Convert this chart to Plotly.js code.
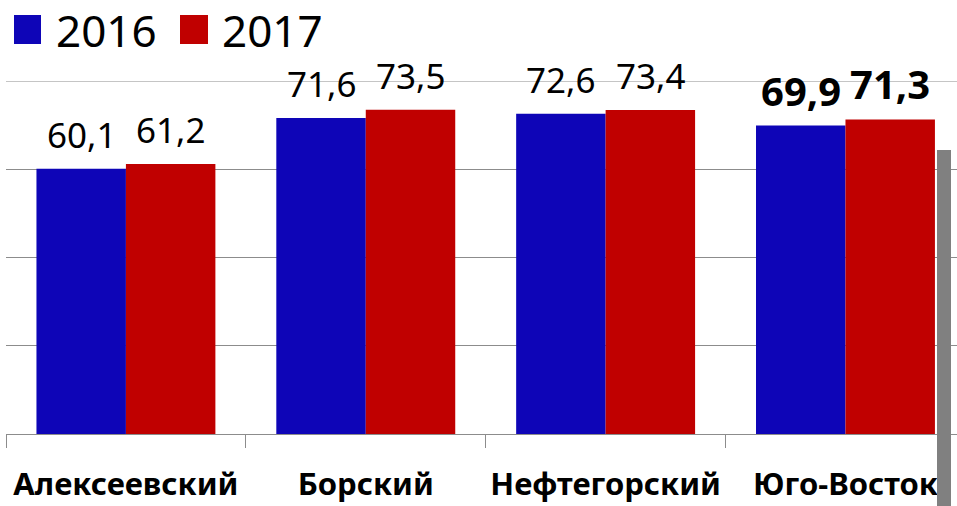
<!DOCTYPE html>
<html>
<head>
<meta charset="utf-8">
<script src="https://cdn.plot.ly/plotly-3.0.1.min.js"></script>
<style>html,body{margin:0;padding:0;background:#fff;}#chart{width:957px;height:506px;}</style>
</head>
<body>
<div id="chart"></div>
<script>
const categories = ["Алексеевский", "Борский", "Нефтегорский", "Юго-Восток"];
const values2016 = [60.1, 71.6, 72.6, 69.9];
const values2017 = [61.2, 73.5, 73.4, 71.3];
const seriesNames = ["2016", "2017"];
const seriesColors = ["#0e05b7", "#c00000"];
const yMax = 80;

const W = 957, H = 506;
const M = {l: 6, r: 0, t: 81, b: 72};
const plotW = W - M.l - M.r, plotH = H - M.t - M.b;
const px2x = p => (p - M.l) / plotW;
const px2y = p => (H - M.b - p) / plotH;

const fmt = v => v.toFixed(1).replace('.', ',');

const traces = [values2016, values2017].map((vals, k) => ({
  type: 'bar',
  name: seriesNames[k],
  x: categories,
  y: vals,
  marker: {color: seriesColors[k], line: {width: 0}},
  showlegend: false,
  hoverinfo: 'skip'
}));

const bargap = 0.254;
const catPx = plotW / 3.965;
const barW = catPx * (1 - bargap) / 2;

const annotations = [];
[values2016, values2017].forEach((vals, k) => {
  vals.forEach((v, i) => {
    const emph = i === categories.length - 1;
    annotations.push({
      x: categories[i], y: v, xref: 'x', yref: 'y',
      text: emph ? '<b>' + fmt(v) + '</b>' : fmt(v),
      showarrow: false,
      xanchor: 'center', yanchor: 'bottom',
      xshift: (k === 0 ? -1 : 1) * barW / 2,
      yshift: emph ? 6 : 9,
      font: {family: 'Noto Sans', size: emph ? 40 : 35, color: '#000'}
    });
  });
});

// legend (manual, large squares)
const legendItems = [{sq0: 14, sq1: 41, tx: 54}, {sq0: 180, sq1: 208, tx: 220}];
const shapes = [];
// top gridline at the range end
shapes.push({type: 'line', xref: 'paper', yref: 'y', x0: 0, x1: 1, y0: yMax, y1: yMax,
  layer: 'below', line: {color: '#8c8c8c', width: 1}});
legendItems.forEach((it, k) => {
  shapes.push({type: 'rect', xref: 'paper', yref: 'paper',
    x0: px2x(it.sq0), x1: px2x(it.sq1), y0: px2y(44), y1: px2y(15),
    fillcolor: seriesColors[k], line: {width: 0}});
  annotations.push({xref: 'paper', yref: 'paper', x: px2x(it.tx), y: px2y(30),
    xanchor: 'left', yanchor: 'middle', showarrow: false, text: seriesNames[k],
    font: {family: 'Noto Sans', size: 44, color: '#000'}});
});
// decorative grey divider on the right
shapes.push({type: 'rect', xref: 'paper', yref: 'paper', layer: 'above',
  x0: px2x(937), x1: px2x(951), y0: px2y(506), y1: px2y(150),
  fillcolor: '#808080', line: {width: 0}});

const layout = {
  width: W, height: H,
  margin: M,
  paper_bgcolor: '#ffffff', plot_bgcolor: 'rgba(0,0,0,0)',
  bargap: bargap, bargroupgap: 0, barmode: 'group',
  showlegend: false,
  xaxis: {
    type: 'category', range: [-0.5, 3.465], fixedrange: true,
    showline: true, linecolor: '#8c8c8c', linewidth: 1,
    ticks: 'outside', tickson: 'boundaries', ticklen: 13, tickcolor: '#8c8c8c', tickwidth: 1,
    showgrid: false,
    tickfont: {family: 'Noto Sans', size: 31, color: '#000', weight: 'bold'},
    ticklabelstandoff: 23
  },
  yaxis: {
    range: [0, yMax], dtick: 20, tick0: 0, fixedrange: true,
    showgrid: true, gridcolor: '#8c8c8c', gridwidth: 1,
    showticklabels: false, zeroline: false, showline: false, ticks: ''
  },
  annotations: annotations,
  shapes: shapes
};

Plotly.newPlot('chart', traces, layout, {displayModeBar: false, staticPlot: true});
</script>
</body>
</html>
